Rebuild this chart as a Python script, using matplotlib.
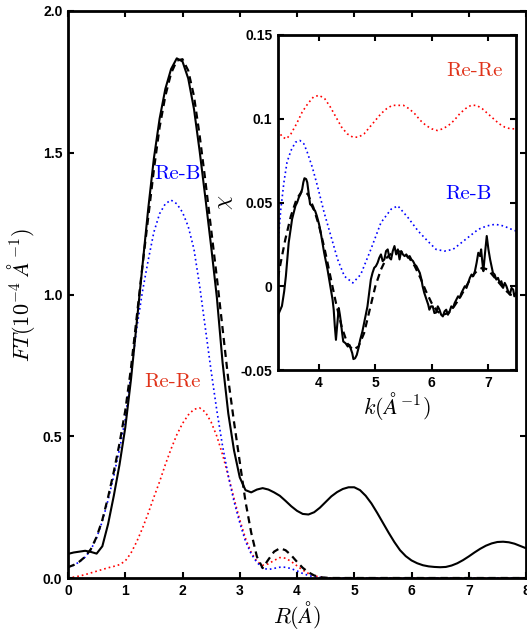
import numpy as np
import matplotlib
matplotlib.use("Agg")
import matplotlib.pyplot as plt

plt.rcParams['mathtext.fontset'] = 'cm'
plt.rcParams['font.family'] = ['Liberation Sans', 'DejaVu Sans']

# ---------------- main panel data (R in Angstrom) ----------------
R = [round(0.1 * i, 1) for i in range(81)]
ft_data = [0.085, 0.090, 0.093, 0.096, 0.092, 0.086, 0.112, 0.190, 0.290, 0.400,
           0.530, 0.700, 0.900, 1.100, 1.300, 1.480, 1.620, 1.725, 1.795, 1.833,
           1.822, 1.762, 1.655, 1.505, 1.340, 1.170, 0.990, 0.760, 0.580, 0.450,
           0.355, 0.310, 0.302, 0.312, 0.317, 0.312, 0.302, 0.290, 0.272, 0.253,
           0.237, 0.226, 0.224, 0.232, 0.248, 0.268, 0.288, 0.303, 0.314, 0.320,
           0.320, 0.310, 0.290, 0.263, 0.230, 0.195, 0.160, 0.127, 0.098, 0.077,
           0.062, 0.052, 0.045, 0.041, 0.039, 0.038, 0.039, 0.044, 0.052, 0.063,
           0.076, 0.090, 0.103, 0.114, 0.122, 0.127, 0.128, 0.126, 0.121, 0.113,
           0.105]
ft_fit = [0.038, 0.046, 0.058, 0.075, 0.102, 0.145, 0.205, 0.285, 0.375, 0.475,
          0.590, 0.740, 0.920, 1.100, 1.270, 1.440, 1.590, 1.700, 1.780, 1.825,
          1.830, 1.790, 1.700, 1.560, 1.400, 1.230, 1.060, 0.880, 0.700, 0.550,
          0.410, 0.270, 0.160, 0.075, 0.035, 0.065, 0.093, 0.105, 0.098, 0.080,
          0.057, 0.036, 0.020, 0.009, 0.003, 0.001] + [0.0] * 35
ft_reb = [0.038, 0.045, 0.057, 0.074, 0.100, 0.142, 0.200, 0.275, 0.360, 0.455,
          0.560, 0.720, 0.880, 1.010, 1.120, 1.220, 1.285, 1.320, 1.333, 1.320,
          1.290, 1.240, 1.160, 1.030, 0.880, 0.730, 0.590, 0.465, 0.360, 0.270,
          0.195, 0.130, 0.085, 0.055, 0.035, 0.030, 0.034, 0.038, 0.038, 0.033,
          0.025, 0.016, 0.009, 0.004, 0.002, 0.001] + [0.0] * 35
ft_rere = [0.000, 0.003, 0.007, 0.012, 0.018, 0.024, 0.030, 0.036, 0.041, 0.047,
           0.060, 0.088, 0.128, 0.175, 0.228, 0.285, 0.340, 0.400, 0.455, 0.505,
           0.545, 0.575, 0.595, 0.600, 0.585, 0.550, 0.500, 0.435, 0.360, 0.280,
           0.205, 0.140, 0.090, 0.058, 0.045, 0.050, 0.062, 0.072, 0.070, 0.058,
           0.043, 0.028, 0.016, 0.008, 0.003, 0.001] + [0.0] * 35

# ---------------- inset data (k in 1/Angstrom) ----------------
k_data = [3.27, 3.29, 3.34, 3.38, 3.41, 3.46, 3.52, 3.55, 3.58, 3.61, 3.64, 3.67,
          3.70, 3.72, 3.74, 3.77, 3.79, 3.82, 3.84, 3.87, 3.90, 3.93, 3.96, 4.00,
          4.03, 4.06, 4.09, 4.12, 4.15, 4.18, 4.21, 4.24, 4.26, 4.28, 4.30, 4.32,
          4.35, 4.37, 4.39, 4.41, 4.43, 4.47, 4.51, 4.54, 4.57, 4.59, 4.61, 4.64,
          4.67, 4.70, 4.73, 4.77, 4.80, 4.83, 4.86, 4.89, 4.92, 4.95, 4.98, 5.01,
          5.04, 5.07, 5.10, 5.13, 5.16, 5.19, 5.22, 5.25, 5.28, 5.31, 5.34, 5.37,
          5.40, 5.43, 5.46, 5.49, 5.52, 5.55, 5.58, 5.61, 5.64, 5.67, 5.70, 5.73,
          5.76, 5.79, 5.82, 5.84, 5.87, 5.91, 5.94, 5.96, 5.99, 6.02, 6.05, 6.08,
          6.11, 6.14, 6.17, 6.20, 6.23, 6.26, 6.29, 6.32, 6.35, 6.38, 6.41, 6.44,
          6.47, 6.50, 6.53, 6.56, 6.59, 6.62, 6.65, 6.68, 6.71, 6.74, 6.77, 6.80,
          6.83, 6.86, 6.88, 6.90, 6.92, 6.95, 6.98, 7.01, 7.04, 7.07, 7.09, 7.12,
          7.15, 7.18, 7.21, 7.24, 7.27, 7.30, 7.33, 7.36, 7.39, 7.42, 7.45, 7.47,
          7.50]
chi_data = [-0.017, -0.0157, -0.0118, -0.003, 0.006, 0.026, 0.040, 0.044, 0.048, 0.050,
            0.053, 0.055, 0.058, 0.062, 0.0645, 0.064, 0.062, 0.054, 0.049, 0.048,
            0.046, 0.045, 0.042, 0.037, 0.032, 0.026, 0.020, 0.015, 0.010, 0.004,
            -0.002, -0.008, -0.014, -0.024, -0.032, -0.024, -0.013, -0.017, -0.022, -0.028,
            -0.033, -0.034, -0.036, -0.035, -0.038, -0.040, -0.0435, -0.043, -0.041, -0.037,
            -0.032, -0.027, -0.022, -0.017, -0.012, -0.004, 0.004, 0.008, 0.011, 0.012,
            0.014, 0.017, 0.019, 0.015, 0.016, 0.021, 0.022, 0.017, 0.016, 0.021,
            0.024, 0.019, 0.022, 0.016, 0.021, 0.019, 0.018, 0.019, 0.017, 0.018,
            0.016, 0.015, 0.013, 0.012, 0.010, 0.008, 0.004, 0.000, -0.004, -0.008,
            -0.011, -0.014, -0.012, -0.012, -0.016, -0.0157, -0.012, -0.014, -0.017, -0.018,
            -0.015, -0.014, -0.017, -0.015, -0.012, -0.013, -0.010, -0.008, -0.006, -0.007,
            -0.004, -0.002, 0.000, -0.001, 0.002, 0.005, 0.007, 0.006, 0.009, 0.014,
            0.020, 0.018, 0.022, 0.015, 0.009, 0.020, 0.030, 0.022, 0.016, 0.011,
            0.008, 0.007, 0.004, 0.005, 0.002, 0.003, -0.001, 0.002, 0.000, -0.003,
            -0.005, -0.001, -0.002, -0.006, -0.004]
k_fit = [3.27, 3.3, 3.4, 3.5, 3.6, 3.7, 3.8, 3.9, 4.0, 4.1, 4.2, 4.3, 4.4, 4.5, 4.6,
         4.7, 4.8, 4.9, 5.0, 5.1, 5.2, 5.3, 5.4, 5.5, 5.6, 5.7, 5.8, 5.9, 6.0, 6.1,
         6.2, 6.3, 6.4, 6.5, 6.6, 6.7, 6.8, 6.9, 7.0, 7.1, 7.2, 7.3, 7.4, 7.5]
chi_fit = [0.005, 0.011, 0.028, 0.042, 0.052, 0.057, 0.055, 0.047, 0.036, 0.022,
           0.006, -0.010, -0.024, -0.034, -0.038, -0.036, -0.028, -0.014, 0.000, 0.010,
           0.017, 0.020, 0.021, 0.020, 0.017, 0.012, 0.005, -0.003, -0.010, -0.015,
           -0.017, -0.016, -0.012, -0.007, -0.001, 0.005, 0.009, 0.011, 0.010, 0.006,
           0.002, -0.002, -0.005, -0.006]
k_reb = [3.27, 3.32, 3.375, 3.43, 3.5, 3.58, 3.66, 3.73, 3.79, 3.88, 3.97, 4.09,
         4.21, 4.33, 4.45, 4.6, 4.74, 4.92, 5.1, 5.28, 5.4, 5.58, 5.76, 5.93, 6.08,
         6.23, 6.38, 6.53, 6.68, 6.83, 6.98, 7.13, 7.28, 7.42, 7.5]
chi_reb = [0.026, 0.046, 0.062, 0.074, 0.081, 0.086, 0.087, 0.085, 0.080, 0.071,
           0.060, 0.044, 0.030, 0.016, 0.006, 0.002, 0.007, 0.022, 0.038, 0.046,
           0.048, 0.041, 0.033, 0.027, 0.022, 0.021, 0.022, 0.026, 0.030, 0.034,
           0.036, 0.037, 0.036, 0.034, 0.033]
k_rere = [3.27, 3.35, 3.42, 3.5, 3.6, 3.7, 3.8, 3.9, 4.0, 4.1, 4.2, 4.3, 4.4, 4.5,
          4.6, 4.7, 4.8, 4.9, 5.0, 5.1, 5.2, 5.3, 5.4, 5.5, 5.6, 5.7, 5.8, 5.9, 6.0,
          6.1, 6.2, 6.3, 6.4, 6.5, 6.6, 6.7, 6.8, 6.9, 7.0, 7.1, 7.2, 7.3, 7.4, 7.5]
chi_rere = [0.093, 0.089, 0.088, 0.091, 0.097, 0.104, 0.109, 0.113, 0.114, 0.112,
            0.107, 0.101, 0.095, 0.091, 0.089, 0.089, 0.091, 0.095, 0.099, 0.103,
            0.106, 0.108, 0.108, 0.108, 0.106, 0.103, 0.099, 0.096, 0.094, 0.093,
            0.094, 0.096, 0.099, 0.103, 0.106, 0.108, 0.108, 0.106, 0.103, 0.100,
            0.097, 0.095, 0.094, 0.094]

main_xticks = [0, 1, 2, 3, 4, 5, 6, 7, 8]
main_yticks = [0.0, 0.5, 1.0, 1.5, 2.0]
main_yticklabels = ['0.0', '0.5', '1.0', '1.5', '2.0']
inset_xticks = [4, 5, 6, 7]
inset_yticks = [-0.05, 0, 0.05, 0.1, 0.15]
inset_yticklabels = ['-0.05', '0', '0.05', '0.1', '0.15']

RED_TXT = '#e0331a'
DOT = (0, (1, 1.8))

fig = plt.figure(figsize=(5.27, 6.33), dpi=100)
ax = fig.add_axes([68 / 527, 55 / 633, 458 / 527, 567 / 633])

ax.plot(R, ft_rere, color='red', lw=1.2, linestyle=DOT)
ax.plot(R, ft_reb, color='blue', lw=1.2, linestyle=DOT)
ax.plot(R, ft_fit, color='black', lw=1.6, linestyle=(0, (3.2, 2.2)))
ax.plot(R, ft_data, color='black', lw=1.5)

ax.set_xlim(0, 8)
ax.set_ylim(0, 2)
ax.set_xticks(main_xticks)
ax.set_yticks(main_yticks)
ax.set_yticklabels(main_yticklabels)
ax.set_xlabel(r'$R(\AA)$', fontsize=16, labelpad=1)
ax.set_ylabel(r'$FT(10^{-4}\ \AA^{-1})$', fontsize=16, labelpad=4)
ax.text(1.92, 1.425, 'Re-B', color='blue', fontsize=15, family='cmr10',
        ha='center', va='center')
ax.text(1.83, 0.69, 'Re-Re', color=RED_TXT, fontsize=15, family='cmr10',
        ha='center', va='center')

ins = fig.add_axes([278 / 527, 263 / 633, 238 / 527, 335 / 633])
ins.plot(k_rere, chi_rere, color='red', lw=1.2, linestyle=DOT)
ins.plot(k_reb, chi_reb, color='blue', lw=1.2, linestyle=DOT)
ins.plot(k_fit, chi_fit, color='black', lw=1.6, linestyle=(0, (3.2, 2.2)))
ins.plot(k_data, chi_data, color='black', lw=1.5)
ins.set_xlim(3.27, 7.5)
ins.set_ylim(-0.05, 0.15)
ins.set_xticks(inset_xticks)
ins.set_yticks(inset_yticks)
ins.set_yticklabels(inset_yticklabels)
ins.set_xlabel(r'$k(\AA^{-1})$', fontsize=16, labelpad=0)
ins.set_ylabel(r'$\chi$', fontsize=16, labelpad=4)
ins.text(6.77, 0.1286, 'Re-Re', color=RED_TXT, fontsize=15, family='cmr10',
         ha='center', va='center')
ins.text(6.66, 0.055, 'Re-B', color='blue', fontsize=15, family='cmr10',
         ha='center', va='center')

for a in (ax, ins):
    for s in a.spines.values():
        s.set_linewidth(2.0)
    a.tick_params(direction='in', top=True, right=True, length=4, width=1.5,
                  labelsize=10, pad=4)
    for lab in a.get_xticklabels() + a.get_yticklabels():
        lab.set_fontweight('bold')

fig.savefig('out.png', dpi=100)
